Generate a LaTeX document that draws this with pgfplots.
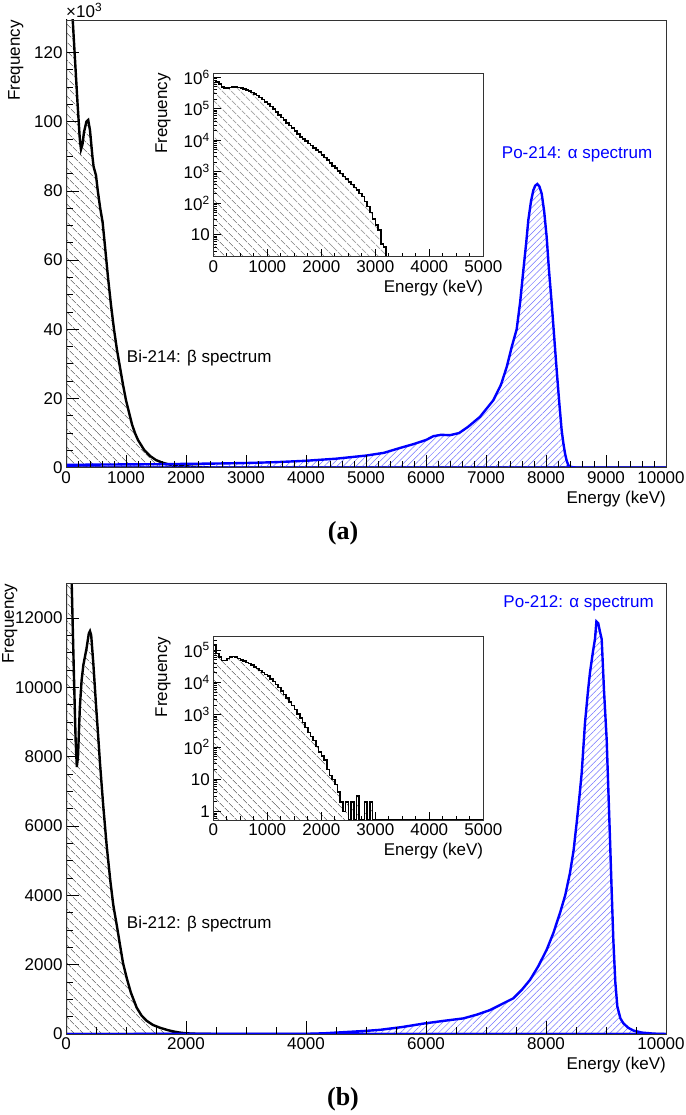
\documentclass[border=0pt]{standalone}
\usepackage{fontspec}
\setmainfont{Liberation Sans}
\newfontfamily\timesfont{Liberation Serif}
\usepackage{pgfplots}
\usepackage{pgfplotstable}
\pgfplotsset{compat=1.18}
\usetikzlibrary{patterns.meta}

% Panel (a) main: Bi-214 (counts in thousands)
\pgfplotstableread{
E y
0 150
60 140
110 130
150 118
190 106
230 95
250 92
275 93.5
300 97
340 100
370 100.5
400 97.5
440 90
460 87
500 84.5
530 80
570 75
610 71
650 64
700 55
750 47
800 40
850 34
900 29
950 24
1000 19.5
1050 16
1100 12.5
1150 10
1200 8
1300 5.2
1400 3.4
1500 2.2
1600 1.5
1700 1.0
1800 0.7
2000 0.4
2200 0.2
2400 0.05
2600 0.01
3000 0
10000 0
}\biA

% Panel (a) main: Po-214 (counts in thousands)
\pgfplotstableread{
E y
0 0.8
500 0.9
1000 0.95
1500 1.0
2000 1.1
2500 1.2
3000 1.35
3500 1.6
4000 2.0
4500 2.6
5000 3.5
5300 4.3
5567 5.7
5789 6.8
6000 8.0
6122 9.1
6250 9.5
6400 9.4
6550 10.0
6700 11.8
6900 14.7
7122 19.5
7250 24
7345 29.1
7430 35
7511 40
7570 48
7622 57
7670 65
7705 71.5
7750 77
7789 80.2
7820 81.5
7855 82
7890 81.3
7928 79.2
7970 74
8011 66.7
8050 57
8095 47.5
8140 37
8178 28.2
8220 19
8261 10.8
8290 7
8317 4.1
8345 2
8372 0.7
8420 0.2
8500 0.05
9000 0
10000 0
}\poA

% Panel (a) inset: Bi-214 log histogram
\pgfplotstableread{
E y
0 2
0 794000
50 708000
100 603000
150 501000
200 457000
250 447000
300 479000
350 501000
400 501000
450 479000
500 457000
550 427000
600 398000
650 363000
700 331000
750 295000
800 263000
850 229000
900 195000
950 166000
1000 141000
1050 117500
1100 97700
1150 79400
1200 64600
1250 52500
1300 43600
1350 35500
1400 29500
1450 24000
1500 19500
1550 15800
1600 12900
1650 11000
1700 9330
1750 7940
1800 6760
1850 5750
1900 4900
1950 4170
2000 3390
2050 2820
2100 2340
2150 1910
2200 1550
2250 1290
2300 1070
2350 871
2400 708
2450 575
2500 468
2550 389
2600 316
2650 257
2700 204
2750 162
2800 112
2850 79
2900 50
2950 32
3000 20
3050 14
3100 5
3150 4
3200 2
5000 2
}\insA

% Panel (b) main: Bi-212
\pgfplotstableread{
E y
0 18000
60 15500
95 13000
130 10500
160 8500
180 7700
200 8000
230 9400
260 10200
290 10650
340 11100
380 11550
400 11620
420 11500
456 10670
500 9500
540 8500
567 7800
620 6600
678 5430
740 4400
789 3710
850 3100
900 2570
950 2050
1011 1620
1080 1200
1178 760
1260 530
1345 380
1450 260
1567 180
1700 110
1800 70
1900 40
2000 20
2200 5
2500 0
10000 0
}\biB

% Panel (b) main: Po-212
\pgfplotstableread{
E y
0 0
4000 5
4300 20
4600 50
5000 90
5233 120
5600 200
5956 300
6300 380
6622 450
6850 560
7067 690
7250 850
7456 1030
7600 1280
7733 1560
7870 1950
8011 2430
8120 2900
8233 3490
8320 4000
8400 4650
8460 5300
8511 6090
8560 6900
8595 7530
8650 8980
8700 9900
8733 10430
8780 11000
8817 11400
8840 11900
8870 11850
8900 11600
8928 11390
8967 9900
9011 8500
9040 7000
9067 5600
9095 4100
9122 2720
9155 1500
9189 790
9240 450
9289 310
9370 180
9455 100
9600 40
9800 10
10000 0
}\poB

% Panel (b) inset: Bi-212 log histogram
\pgfplotstableread{
E y
0 0.55
0 141000
50 79400
100 60300
150 47900
200 47900
250 55000
300 60300
350 63100
400 61700
450 55000
500 50100
550 45700
600 41700
650 38000
700 34700
750 30200
800 26900
850 23400
900 20400
950 17800
1000 15500
1050 12900
1100 10700
1150 8710
1200 6920
1250 5500
1300 4270
1350 3310
1400 2510
1450 1910
1500 1450
1550 1070
1600 794
1650 575
1700 398
1750 282
1800 214
1850 158
1900 105
1950 71
2000 52
2050 40
2100 20
2150 13
2200 10
2250 7
2300 4
2350 2
2400 1
2450 2
2500 0.55
2550 2
2600 0.55
2650 3
2700 0.55
2800 2
2850 0.55
2900 2
2950 0.55
5000 0.55
}\insB

\pgfplotsset{
  rootaxis/.style={
    scale only axis,
    anchor=south west,
    axis line style={line width=0.9pt, black!80},
    tick align=inside,
    tick pos=left,
    every tick/.style={black, line width=0.8pt},
    tick label style={font=\fontsize{17}{20}\selectfont},
    label style={font=\fontsize{17}{20}\selectfont, inner sep=0pt},
    /pgf/number format/assume math mode=true,
    /pgf/number format/1000 sep={},
    scaled ticks=false,
    axis on top,
    xlabel={Energy (keV)},
    ylabel={Frequency},
    xlabel style={at={(axis description cs:1,0)}, anchor=base east, yshift=-36pt},
  },
  bihatch/.style={pattern={Lines[angle=-45,distance=6.5pt,line width=0.7pt]}, pattern color=black!75},
  pohatch/.style={pattern={Lines[angle=45,distance=4.5pt,line width=0.5pt]}, pattern color=blue!55},
}

\begin{document}
\begin{tikzpicture}
\useasboundingbox (0pt,0pt) rectangle (685pt,1115pt);

% ---------------- Panel (a) main ----------------
\begin{axis}[rootaxis,
  at={(66pt,647.3pt)}, width=600pt, height=447.7pt,
  xmin=0, xmax=10000, ymin=0, ymax=129.4,
  xtick={0,1000,...,10000}, minor x tick num=4,
  xticklabels={0,1000,2000,3000,4000,5000,6000,7000,8000,9000,10000\hspace*{10pt}},
  ytick={0,20,...,120}, minor y tick num=3,
  major tick length=13pt, minor tick length=6.5pt,
  ylabel style={at={(axis description cs:-0.0967,1)}, anchor=north east},
  after end axis/.code={\node[anchor=base west, inner sep=0pt, font=\fontsize{17}{20}\selectfont] at ([yshift=2pt]rel axis cs:0,1) {×10\textsuperscript{3}};},
]
\addplot[black, line width=2.4pt, bihatch] table[x=E,y=y] {\biA} \closedcycle;
\addplot[blue, line width=2.4pt, pohatch] table[x=E,y=y] {\poA} \closedcycle;
\node[anchor=base west, inner sep=0pt, font=\fontsize{17}{20}\selectfont] at (axis cs:1012,30.3) {Bi-214: β spectrum};
\node[anchor=base west, inner sep=0pt, text=blue, font=\fontsize{17}{20}\selectfont] at (axis cs:7262,89.5) {Po-214: α spectrum};
\end{axis}

% ---------------- Panel (a) inset ----------------
\begin{axis}[rootaxis,
  at={(213.3pt,858.3pt)}, width=270pt, height=183.4pt,
  axis background/.style={fill=white},
  xmin=0, xmax=5000, ymode=log, ymin=2, ymax=1.34e6,
  xtick={0,1000,...,5000}, minor x tick num=3,
  ytick={10,100,1000,10000,100000,1000000},
  yticklabels={10,10\textsuperscript{2},10\textsuperscript{3},10\textsuperscript{4},10\textsuperscript{5},10\textsuperscript{6}},
  minor ytick={3,4,5,6,7,8,9,20,30,40,50,60,70,80,90,200,300,400,500,600,700,800,900,2000,3000,4000,5000,6000,7000,8000,9000,20000,30000,40000,50000,60000,70000,80000,90000,200000,300000,400000,500000,600000,700000,800000,900000},
  major tick length=8pt, minor tick length=4pt,
  ylabel style={at={(axis description cs:-0.2148,1)}, anchor=north east},
]
\addplot[const plot, black, line width=1.6pt, bihatch] table[x=E,y=y] {\insA};
\end{axis}

% ---------------- Panel (b) main ----------------
\begin{axis}[rootaxis,
  at={(66pt,81pt)}, width=600pt, height=450.7pt,
  xmin=0, xmax=10000, ymin=0, ymax=13000,
  xtick={0,2000,...,10000}, minor x tick num=3,
  xticklabels={0,2000,4000,6000,8000,10000\hspace*{10pt}},
  ytick={0,2000,...,12000}, minor y tick num=3,
  major tick length=13pt, minor tick length=6.5pt,
  ylabel style={at={(axis description cs:-0.1065,1)}, anchor=north east},
]
\addplot[black, line width=2.4pt, bihatch] table[x=E,y=y] {\biB} \closedcycle;
\addplot[blue, line width=2.4pt, pohatch] table[x=E,y=y] {\poB} \closedcycle;
\node[anchor=base west, inner sep=0pt, font=\fontsize{17}{20}\selectfont] at (axis cs:1012,3057) {Bi-212: β spectrum};
\node[anchor=base west, inner sep=0pt, text=blue, font=\fontsize{17}{20}\selectfont] at (axis cs:7288,12316) {Po-212: α spectrum};
\end{axis}

% ---------------- Panel (b) inset ----------------
\begin{axis}[rootaxis,
  at={(213.3pt,295pt)}, width=270pt, height=183.3pt,
  axis background/.style={fill=white},
  xmin=0, xmax=5000, ymode=log, ymin=0.55, ymax=2.6e5,
  xtick={0,1000,...,5000}, minor x tick num=3,
  ytick={1,10,100,1000,10000,100000},
  yticklabels={1,10,10\textsuperscript{2},10\textsuperscript{3},10\textsuperscript{4},10\textsuperscript{5}},
  minor ytick={0.6,0.7,0.8,0.9,2,3,4,5,6,7,8,9,20,30,40,50,60,70,80,90,200,300,400,500,600,700,800,900,2000,3000,4000,5000,6000,7000,8000,9000,20000,30000,40000,50000,60000,70000,80000,90000,200000},
  major tick length=8pt, minor tick length=4pt,
  ylabel style={at={(axis description cs:-0.2148,1)}, anchor=north east},
]
\addplot[const plot, black, line width=1.6pt, bihatch] table[x=E,y=y] {\insB};
\end{axis}

\node[font=\timesfont\bfseries\fontsize{26}{30}\selectfont, inner sep=0pt] at (343pt,582pt) {(a)};
\node[font=\timesfont\bfseries\fontsize{26}{30}\selectfont, inner sep=0pt] at (343pt,16pt) {(b)};
\end{tikzpicture}
\end{document}
